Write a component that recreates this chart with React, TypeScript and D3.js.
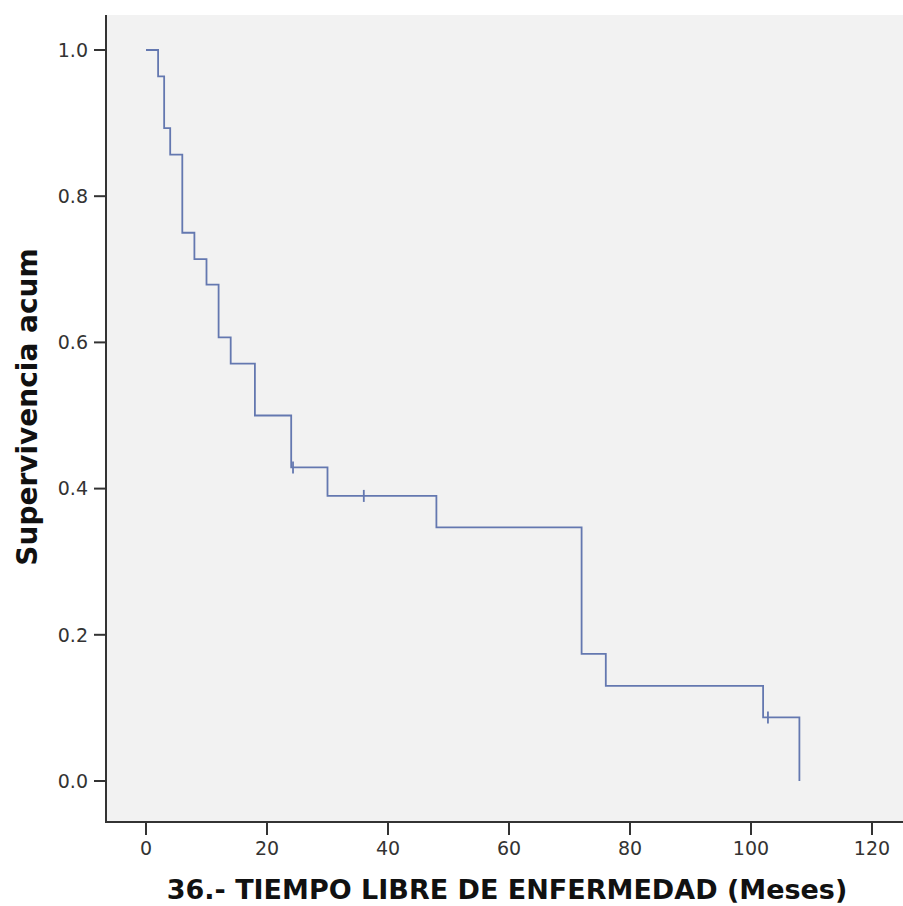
import React from "react";
import * as d3 from "d3";

const stepTimes = [0, 2, 3, 4, 6, 8, 10, 12, 14, 18, 24, 30, 48, 72, 76, 102, 108];
const stepSurv = [1.0, 0.964, 0.893, 0.857, 0.75, 0.714, 0.679, 0.607, 0.571, 0.5, 0.429, 0.39, 0.347, 0.174, 0.13, 0.087, 0.0];
const censorTimes = [24.3, 36, 102.8];
const censorSurv = [0.429, 0.39, 0.087];
const xTicks = [0, 20, 40, 60, 80, 100, 120];
const yTicks = [0.0, 0.2, 0.4, 0.6, 0.8, 1.0];
const xTitle = "36.- TIEMPO LIBRE DE ENFERMEDAD (Meses)";
const yTitle = "Supervivencia acum";

export default function App() {
  const W = 903, H = 906;
  const plotL = 106, plotR = 903, plotT = 15, plotB = 822;
  const x = d3.scaleLinear().domain([0, 120]).range([146, 872]);
  const y = d3.scaleLinear().domain([0, 1]).range([781, 50]);
  const pts: [number, number][] = stepTimes.map((t, i) => [t, stepSurv[i]]);
  const line = d3.line<[number, number]>().x(d => x(d[0])).y(d => y(d[1])).curve(d3.curveStepAfter);
  const lineColor = "#6478b0";
  const font = "'DejaVu Sans', Verdana, sans-serif";
  return (
    <svg width={W} height={H} style={{ position: "absolute", left: 0, top: 0, background: "#fff" }}>
      <rect x={plotL} y={plotT} width={plotR - plotL} height={plotB - plotT} fill="#f2f2f2" />
      <path d={line(pts) || ""} fill="none" stroke={lineColor} strokeWidth={1.8} />
      {censorTimes.map((t, i) => (
        <line key={i} x1={x(t)} x2={x(t)} y1={y(censorSurv[i]) - 6} y2={y(censorSurv[i]) + 6} stroke={lineColor} strokeWidth={1.8} />
      ))}
      <line x1={plotL} x2={plotL} y1={plotT} y2={plotB + 1} stroke="#333" strokeWidth={2} />
      <line x1={plotL} x2={plotR} y1={plotB} y2={plotB} stroke="#333" strokeWidth={2} />
      {yTicks.map(v => (
        <g key={v}>
          <line x1={plotL - 12} x2={plotL} y1={y(v)} y2={y(v)} stroke="#333" strokeWidth={2} />
          <text x={plotL - 18} y={y(v)} dy="0.36em" textAnchor="end" fontFamily={font} fontSize={19} fill="#333">{v.toFixed(1)}</text>
        </g>
      ))}
      {xTicks.map(v => (
        <g key={v}>
          <line x1={x(v)} x2={x(v)} y1={plotB} y2={plotB + 13} stroke="#333" strokeWidth={2} />
          <text x={x(v)} y={855} textAnchor="middle" fontFamily={font} fontSize={19} fill="#333">{v}</text>
        </g>
      ))}
      <text x={507} y={899} textAnchor="middle" fontFamily={font} fontSize={27} fontWeight="bold" fill="#111">{xTitle}</text>
      <text transform={`translate(37,407) rotate(-90)`} textAnchor="middle" fontFamily={font} fontSize={28} fontWeight="bold" fill="#111">{yTitle}</text>
    </svg>
  );
}
